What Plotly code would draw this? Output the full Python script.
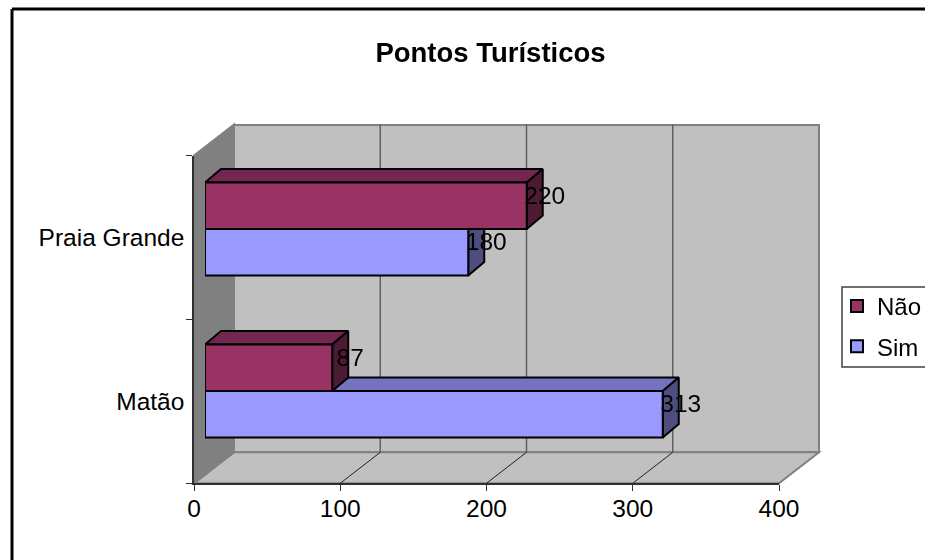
import plotly.graph_objects as go

TITLE = "Pontos Turísticos"
CATEGORIES = ["Matão", "Praia Grande"]
SERIES_SIM = [313, 180]
SERIES_NAO = [87, 220]
X_TICKS = [0, 100, 200, 300, 400]

W, H = 925, 560
FONT = "Liberation Sans, Arial, sans-serif"
RED, RED_TOP, RED_SIDE = "#993366", "#732650", "#4D1A33"
BLUE, BLUE_TOP, BLUE_SIDE = "#9999FF", "#7373BF", "#4D4D80"
WALL, WALL_DARK, EDGE = "#C0C0C0", "#808080", "#808080"

# pixel layout helpers
def fx(px): return px / W
def fy(py): return 1 - py / H
SCALE = 585 / 400          # px per unit
X0_FRONT, X0_BAR = 194, 205
Y_FRONT, Y_TOP_FRONT = 483.3, 155.6
DX_WALL, DY_WALL = 40, 31
BAR_TOP, BAR_BOTTOM = 148, 472   # pixel extent of the two category bands in the bar plane
UNIT_Y = (BAR_BOTTOM - BAR_TOP) / 2
BAR_W = 46.5 / UNIT_Y
DEPTH_X = 16 / SCALE
DEPTH_Y = 13.5 / UNIT_Y
LABEL_DX = 18 / SCALE
LABEL_DY = 8 / UNIT_Y

fig = go.Figure()

bar_dom_x = [fx(X0_BAR), fx(X0_BAR + 400 * SCALE)]
bar_dom_y = [fy(BAR_BOTTOM), fy(BAR_TOP)]
positions = list(range(len(CATEGORIES)))

# invisible trace so the category axis with its ticks exists
fig.add_trace(go.Scatter(x=SERIES_SIM, y=CATEGORIES, mode="markers", opacity=0,
                         showlegend=False, hoverinfo="skip", xaxis="x", yaxis="y"))


def poly(xs, ys, color):
    fig.add_trace(go.Scatter(x=xs, y=ys, mode="lines", fill="toself", fillcolor=color,
                             line=dict(color="#000000", width=2), showlegend=False,
                             hoverinfo="skip", xaxis="x2", yaxis="y2"))


def faces(values, offset, top_color, side_color):
    for pos, v in zip(positions, values):
        c = pos + offset
        t, b = c + BAR_W / 2, c - BAR_W / 2
        poly([0, v, v + DEPTH_X, DEPTH_X, 0], [t, t, t + DEPTH_Y, t + DEPTH_Y, t], top_color)
        poly([v, v + DEPTH_X, v + DEPTH_X, v, v], [t, t + DEPTH_Y, b + DEPTH_Y, b, t], side_color)


faces(SERIES_SIM, -BAR_W / 2, BLUE_TOP, BLUE_SIDE)
faces(SERIES_NAO, BAR_W / 2, RED_TOP, RED_SIDE)

# front faces
fig.add_trace(go.Bar(y=positions, x=SERIES_SIM, name="Sim", orientation="h", legendgroup="sim", legendrank=2,
                     marker=dict(color=BLUE, line=dict(color="#000000", width=2)),
                     hoverinfo="x+name", xaxis="x3", yaxis="y3"))
fig.add_trace(go.Bar(y=positions, x=SERIES_NAO, name="Não", orientation="h", legendgroup="nao", legendrank=1,
                     marker=dict(color=RED, line=dict(color="#000000", width=2)),
                     hoverinfo="x+name", xaxis="x3", yaxis="y3"))

# data labels
for values, offset in ((SERIES_SIM, -BAR_W / 2), (SERIES_NAO, BAR_W / 2)):
    fig.add_trace(go.Scatter(x=[v + LABEL_DX for v in values],
                             y=[p + offset + LABEL_DY for p in positions],
                             text=[str(v) for v in values], mode="text",
                             textfont=dict(family=FONT, size=24.5, color="#000000"),
                             showlegend=False, hoverinfo="skip", xaxis="x3", yaxis="y3"))

shapes = []


def seg(x0, y0, x1, y1, color=EDGE, width=2):
    shapes.append(dict(type="line", xref="paper", yref="paper", layer="below",
                       x0=fx(x0), y0=fy(y0), x1=fx(x1), y1=fy(y1),
                       line=dict(color=color, width=width)))


def area(points, color, edge=EDGE, width=2):
    path = "M" + "L".join(f"{fx(a):.5f},{fy(b):.5f}" for a, b in points) + "Z"
    shapes.append(dict(type="path", xref="paper", yref="paper", layer="below", path=path,
                       fillcolor=color, line=dict(color=edge, width=width)))


XR = X0_FRONT + 400 * SCALE
area([(X0_FRONT + DX_WALL, Y_TOP_FRONT - DY_WALL + 0.4),
      (XR + DX_WALL, Y_TOP_FRONT - DY_WALL + 0.4),
      (XR + DX_WALL, Y_FRONT - DY_WALL),
      (X0_FRONT + DX_WALL, Y_FRONT - DY_WALL)], WALL)
area([(X0_FRONT, Y_FRONT), (X0_FRONT + DX_WALL, Y_FRONT - DY_WALL),
      (XR + DX_WALL, Y_FRONT - DY_WALL), (XR, Y_FRONT)], WALL)
area([(X0_FRONT, Y_TOP_FRONT), (X0_FRONT + DX_WALL, Y_TOP_FRONT - DY_WALL),
      (X0_FRONT + DX_WALL, Y_FRONT - DY_WALL), (X0_FRONT, Y_FRONT)], WALL_DARK)

for t in X_TICKS[1:-1]:
    px = X0_FRONT + t * SCALE
    seg(px + DX_WALL, Y_TOP_FRONT - DY_WALL, px + DX_WALL, Y_FRONT - DY_WALL, "#606060", 1.5)
    seg(px, Y_FRONT, px + DX_WALL, Y_FRONT - DY_WALL, "#202020", 1)

# outer chart border running off the page at right and bottom
seg(12, 9, W + 5, 9, "#000000", 3)
seg(12, 9, 12, H + 5, "#000000", 3)
# legend box, also running off the page
area([(842, 287), (W + 5, 287), (W + 5, 367), (842, 367)], "#FFFFFF", "#404040", 1.5)

hidden = dict(visible=False, fixedrange=True)
fig.update_layout(
    width=W, height=H, autosize=False,
    margin=dict(l=0, r=0, t=0, b=0, autoexpand=False),
    paper_bgcolor="#FFFFFF", plot_bgcolor="rgba(0,0,0,0)",
    font=dict(family=FONT, size=24.5, color="#000000"),
    barmode="group", bargap=1 - 2 * BAR_W, bargroupgap=0,
    shapes=shapes,
    title=dict(text=TITLE, x=490.5 / W, xanchor="center", xref="paper",
               y=fy(52), yanchor="middle", yref="paper",
               font=dict(family=FONT, size=27.5, weight=700, color="#000000")),
    xaxis=dict(domain=[fx(X0_FRONT), fx(XR)], range=[0, 400], tickvals=X_TICKS,
               showgrid=False, zeroline=False, showline=True, linecolor="#303030", linewidth=1.5,
               ticks="outside", ticklen=6, tickcolor="#303030", tickfont=dict(size=24.5), anchor="y",
               ticklabelstandoff=-3),
    yaxis=dict(domain=[fy(Y_FRONT), fy(Y_TOP_FRONT)], type="category", categoryorder="array",
               categoryarray=CATEGORIES, range=[-0.5, 1.5], tickson="boundaries",
               showgrid=False, zeroline=False, showline=True, linecolor="#303030", linewidth=1.5,
               ticks="outside", ticklen=6, tickcolor="#303030", tickfont=dict(size=24.5), anchor="x",
               ticklabelstandoff=3),
    xaxis2=dict(domain=bar_dom_x, range=[0, 400], anchor="y2", **hidden),
    yaxis2=dict(domain=bar_dom_y, range=[-0.5, 1.5], anchor="x2", **hidden),
    xaxis3=dict(domain=bar_dom_x, range=[0, 400], anchor="y3", **hidden),
    yaxis3=dict(domain=bar_dom_y, range=[-0.5, 1.5], anchor="x3", **hidden),
    legend=dict(x=fx(837), xanchor="left", y=fy(284), yanchor="top", traceorder="grouped",
                tracegroupgap=6, borderwidth=0, bgcolor="rgba(0,0,0,0)",
                font=dict(family=FONT, size=24), itemclick=False, itemdoubleclick=False),
)

fig.write_html("out.html", config=dict(displayModeBar=False),
               post_script="document.body.style.margin='0';window.dispatchEvent(new Event('resize'));")
